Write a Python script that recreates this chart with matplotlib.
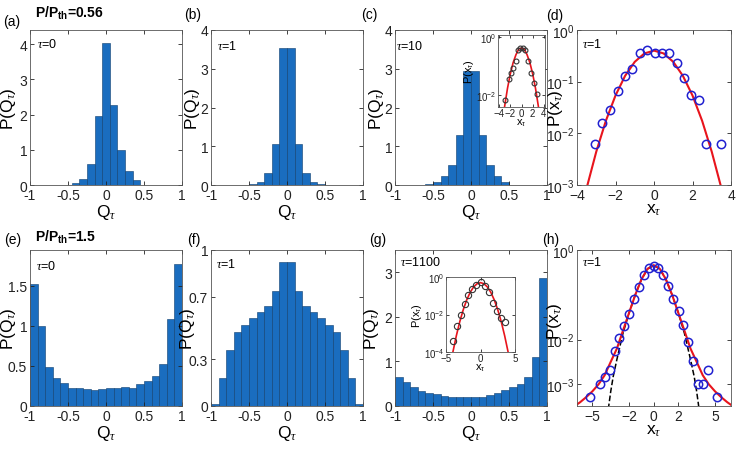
import matplotlib.pyplot as plt
import numpy as np

plt.rcParams['font.family'] = ['Liberation Sans', 'DejaVu Sans']
plt.rcParams['mathtext.fontset'] = 'custom'
plt.rcParams['mathtext.rm'] = 'Liberation Sans'
plt.rcParams['mathtext.it'] = 'Liberation Serif:italic'
plt.rcParams['mathtext.bf'] = 'Liberation Sans:bold'

# ---- histogram data (left bin edges, bin width 0.1) ----
edges_a = [-0.55, -0.45, -0.35, -0.25, -0.15, -0.05, 0.05, 0.15, 0.25, 0.35]
p_a = [0.01, 0.05, 0.17, 0.6, 1.95, 4.03, 2.28, 0.98, 0.4, 0.15]

edges_b = [-0.5, -0.4, -0.3, -0.2, -0.1, 0.0, 0.1, 0.2, 0.3, 0.4]
p_b = [0.02, 0.07, 0.32, 1.05, 3.53, 3.53, 1.05, 0.32, 0.07, 0.02]

edges_c = [-0.6, -0.5, -0.4, -0.3, -0.2, -0.1, 0.0, 0.1, 0.2, 0.3, 0.4, 0.5]
p_c = [0.02, 0.07, 0.22, 0.52, 1.28, 2.95, 2.93, 1.28, 0.52, 0.22, 0.07, 0.01]

edges_full = [-1.0, -0.9, -0.8, -0.7, -0.6, -0.5, -0.4, -0.3, -0.2, -0.1,
              0.0, 0.1, 0.2, 0.3, 0.4, 0.5, 0.6, 0.7, 0.8, 0.9]
p_e = [1.52, 1.0, 0.485, 0.35, 0.29, 0.23, 0.22, 0.21, 0.2, 0.215,
       0.22, 0.22, 0.24, 0.23, 0.27, 0.31, 0.38, 0.53, 1.09, 1.78]
p_f = [0.01, 0.177, 0.36, 0.475, 0.52, 0.565, 0.605, 0.64, 0.74, 0.92,
       0.92, 0.74, 0.64, 0.605, 0.565, 0.52, 0.475, 0.36, 0.177, 0.01]
p_g = [0.64, 0.53, 0.42, 0.34, 0.30, 0.27, 0.23, 0.21, 0.20, 0.20,
       0.20, 0.21, 0.25, 0.30, 0.36, 0.42, 0.50, 0.66, 1.11, 2.88]

# ---- (d) points and fit ----
xd = [-3.07, -2.68, -2.28, -1.89, -1.53, -1.14, -0.75, -0.35, 0.04, 0.40,
      0.79, 1.18, 1.54, 1.93, 2.32, 2.72, 3.46]
pd_ = [0.0062, 0.0158, 0.028, 0.067, 0.127, 0.176, 0.36, 0.41, 0.36, 0.354,
       0.36, 0.226, 0.118, 0.054, 0.045, 0.0062, 0.0062]
xfit_d = [-3.6, -3.5, -3.0, -2.5, -2.0, -1.5, -1.0, -0.5, 0.0, 0.5, 1.0, 1.5, 2.0, 2.5, 3.0, 3.5, 3.6]
pfit_d = [0.0006, 0.00087, 0.0044, 0.0175, 0.054, 0.13, 0.242, 0.352, 0.399,
          0.352, 0.242, 0.13, 0.054, 0.0175, 0.0044, 0.00087, 0.0006]

# ---- inset (c) ----
xc_in = [-2.9, -2.3, -1.8, -1.46, -1.06, -0.67, -0.25, 0.2, 0.67, 1.17, 1.73, 2.2, 2.75]
pc_in = [0.007, 0.036, 0.06, 0.083, 0.15, 0.34, 0.4, 0.4, 0.34, 0.15, 0.06, 0.027, 0.011]
xcfit_in = [-3.4, -3.0, -2.5, -2.0, -1.5, -1.0, -0.5, 0.0, 0.5, 1.0, 1.5, 2.0, 2.5, 3.0, 3.4]
pcfit_in = [0.0012, 0.0044, 0.0175, 0.054, 0.13, 0.242, 0.38, 0.41, 0.38, 0.242,
            0.13, 0.054, 0.0175, 0.0044, 0.0012]

# ---- inset (g) ----
xg_in = [-4.0, -3.4, -2.85, -2.3, -1.8, -1.17, -0.58, 0.0, 0.63, 1.26, 1.84, 2.4, 3.0, 3.5]
pg_in = [0.0004, 0.0023, 0.01, 0.038, 0.11, 0.23, 0.38, 0.55, 0.33, 0.15, 0.043, 0.015, 0.0063, 0.004]
xgfit_in = [-4.2, -4.0, -3.5, -3.0, -2.5, -2.0, -1.5, -1.0, -0.5, 0.0,
            0.5, 1.0, 1.5, 2.0, 2.5, 3.0, 3.5, 4.0, 4.2]
pgfit_in = [0.00005, 0.0001, 0.00074, 0.0042, 0.018, 0.0595, 0.151, 0.294, 0.438, 0.5,
            0.438, 0.294, 0.151, 0.0595, 0.018, 0.0042, 0.00074, 0.0001, 0.00005]

# ---- (h) points, fit, gaussian ----
xh = [-5.2, -4.35, -4.0, -3.6, -3.18, -2.8, -2.39, -1.98, -1.58, -1.17, -0.79, -0.41, 0.0,
      0.35, 0.73, 1.17, 1.58, 2.04, 2.42, 2.80, 3.2, 3.6, 4.0, 4.4, 5.16]
ph = [5.2e-4, 1.03e-3, 1.5e-3, 2.1e-3, 5.7e-3, 0.011, 0.0205, 0.037, 0.08, 0.15, 0.27, 0.39, 0.44,
      0.40, 0.28, 0.16, 0.082, 0.044, 0.021, 0.0087, 0.0034, 1.03e-3, 1.03e-3, 2.1e-3, 5.2e-4]
xfit_h = [-6.3, -6.0, -5.5, -5.0, -4.5, -4.0, -3.5, -3.0, -2.5, -2.0, -1.5, -1.0, -0.5, 0.0,
          0.5, 1.0, 1.5, 2.0, 2.5, 3.0, 3.5, 4.0, 4.5, 5.0, 5.5, 6.0, 6.3]
pfit_h = [3.5e-4, 4e-4, 5.2e-4, 7e-4, 1e-3, 1.6e-3, 3.2e-3, 6.3e-3, 0.016, 0.04, 0.1, 0.22, 0.38, 0.46,
          0.38, 0.22, 0.1, 0.04, 0.016, 6.3e-3, 3.2e-3, 1.6e-3, 1e-3, 7e-4, 5.2e-4, 4e-4, 3.5e-4]
xgau_h = [-3.7, -3.5, -3.3, -3.0, -2.5, -2.0, -1.5, -1.0, -0.5, 0.0,
          0.5, 1.0, 1.5, 2.0, 2.5, 3.0, 3.3, 3.5, 3.7]
pgau_h = [2.8e-4, 7e-4, 1.5e-3, 3.6e-3, 0.014, 0.04, 0.1, 0.22, 0.38, 0.45,
          0.38, 0.22, 0.1, 0.04, 0.014, 3.6e-3, 1.5e-3, 7e-4, 2.8e-4]

BAR = '#1a6dbf'
EDGE = '#0d3d6e'
W, H = 738, 456

fig = plt.figure(figsize=(7.38, 4.56), dpi=100)


def px_axes(x0, y0, x1, y1):
    return fig.add_axes([x0 / W, 1 - y1 / H, (x1 - x0) / W, (y1 - y0) / H])


def style(ax, fs=10):
    ax.tick_params(direction='in', top=True, right=True, length=3, width=0.6,
                   labelsize=fs, pad=2, colors='#222222')
    ax.tick_params(which='minor', length=0)
    for s in ax.spines.values():
        s.set_linewidth(0.6)
        s.set_color('#555555')


def hist(ax, edges, vals, ylim, yticks):
    ax.bar(edges, vals, width=0.1, align='edge', color=BAR, edgecolor=EDGE, linewidth=0.4)
    ax.set_xlim(-1, 1)
    ax.set_ylim(*ylim)
    ax.set_xticks([-1, -0.5, 0, 0.5, 1])
    ax.set_xticklabels(['-1', '-0.5', '0', '0.5', '1'])
    ax.set_yticks(yticks)
    ax.set_yticklabels([('%g' % t) for t in yticks])
    ax.set_xlabel(r'Q$_\tau$', fontsize=12.5, labelpad=0)
    ax.set_ylabel(r'P(Q$_\tau$)', fontsize=12.5)
    style(ax)


cols = [(30, 182), (211, 363), (395, 547), (577, 731)]
row1 = (31, 186)
row2 = (251, 407)

ax_a = px_axes(cols[0][0], row1[0], cols[0][1], row1[1])
hist(ax_a, edges_a, p_a, (0, 4.4), [0, 1, 2, 3, 4])
ax_a.yaxis.set_label_coords(-0.08, 0.5)

ax_b = px_axes(cols[1][0], row1[0], cols[1][1], row1[1])
hist(ax_b, edges_b, p_b, (0, 4), [0, 1, 2, 3, 4])
ax_b.yaxis.set_label_coords(-0.06, 0.5)

ax_c = px_axes(cols[2][0], row1[0], cols[2][1], row1[1])
hist(ax_c, edges_c, p_c, (0, 4), [0, 1, 2, 3, 4])
ax_c.yaxis.set_label_coords(-0.06, 0.5)

ax_d = px_axes(cols[3][0], row1[0], cols[3][1], row1[1])
ax_d.plot(xfit_d, pfit_d, color='#e8141c', lw=1.5)
ax_d.plot(xd, pd_, 'o', mfc='none', mec='#2020d0', ms=6, mew=1.1)
ax_d.set_yscale('log')
ax_d.set_xlim(-4, 4)
ax_d.set_ylim(1e-3, 1)
ax_d.set_xticks([-4, -2, 0, 2, 4])
ax_d.set_yticks([1e-3, 1e-2, 1e-1, 1])
ax_d.set_xlabel(r'x$_\tau$', fontsize=12.5, labelpad=0)
ax_d.set_ylabel(r'P(x$_\tau$)', fontsize=12.5)
ax_d.yaxis.set_label_coords(-0.075, 0.5)
style(ax_d)

ax_e = px_axes(cols[0][0], row2[0], cols[0][1], row2[1])
hist(ax_e, edges_full, p_e, (0, 1.95), [0, 0.5, 1, 1.5])
ax_e.yaxis.set_label_coords(-0.08, 0.5)

ax_f = px_axes(cols[1][0], row2[0], cols[1][1], row2[1])
hist(ax_f, edges_full, p_f, (0, 1), [0, 0.3, 0.7, 1])
ax_f.yaxis.set_label_coords(-0.09, 0.5)

ax_g = px_axes(cols[2][0], row2[0], cols[2][1], row2[1])
hist(ax_g, edges_full, p_g, (0, 3.5), [0, 1, 2, 3])
ax_g.yaxis.set_label_coords(-0.09, 0.5)

ax_h = px_axes(cols[3][0], row2[0], cols[3][1], row2[1])
ax_h.plot(xgau_h, pgau_h, 'k--', lw=1.1)
ax_h.plot(xfit_h, pfit_h, color='#e8141c', lw=1.5)
ax_h.plot(xh, ph, 'o', mfc='none', mec='#2020d0', ms=6, mew=1.1)
ax_h.set_yscale('log')
ax_h.set_xlim(-6.25, 6.3)
ax_h.set_ylim(3.3e-4, 1)
ax_h.set_xticks([-5, -2, 0, 2, 5])
ax_h.set_yticks([1e-3, 1e-2, 1])
ax_h.set_xlabel(r'x$_\tau$', fontsize=12.5, labelpad=0)
ax_h.set_ylabel(r'P(x$_\tau$)', fontsize=12.5)
ax_h.yaxis.set_label_coords(-0.085, 0.55)
style(ax_h)

# inset (c)
ax_ci = px_axes(498, 36, 545, 108)
ax_ci.plot(xcfit_in, pcfit_in, color='#e8141c', lw=1.2)
ax_ci.plot(xc_in, pc_in, 'o', mfc='none', mec='#333333', ms=3.5, mew=0.8)
ax_ci.set_yscale('log')
ax_ci.set_xlim(-4.2, 4.2)
ax_ci.set_ylim(4e-3, 1.15)
ax_ci.set_xticks([-4, -2, 0, 2, 4])
ax_ci.set_yticks([1e-2, 1])
ax_ci.set_xlabel(r'x$_\tau$', fontsize=8, labelpad=-1)
ax_ci.set_ylabel(r'P(x$_\tau$)', fontsize=8, labelpad=0)
style(ax_ci, fs=7)
ax_ci.tick_params(pad=1, length=2)

# inset (g)
ax_gi = px_axes(446, 278, 515, 353)
ax_gi.plot(xgfit_in, pgfit_in, color='#e8141c', lw=1.2)
ax_gi.plot(xg_in, pg_in, 'o', mfc='none', mec='#333333', ms=4.5, mew=0.8)
ax_gi.set_yscale('log')
ax_gi.set_xlim(-5, 5)
ax_gi.set_ylim(1e-4, 1)
ax_gi.set_xticks([-5, 0, 5])
ax_gi.set_yticks([1e-4, 1e-2, 1])
ax_gi.set_xlabel(r'x$_\tau$', fontsize=8, labelpad=-1)
ax_gi.set_ylabel(r'P(x$_\tau$)', fontsize=8, labelpad=0)
style(ax_gi, fs=7)
ax_gi.tick_params(pad=1, length=2)


def ftext(x, y, s, **kw):
    fig.text(x / W, 1 - y / H, s, va='center', ha='left', **kw)


ftext(3, 22, '(a)', fontsize=10)
ftext(35, 13, r'P/P$_{\mathbf{th}}$=0.56', fontsize=10, fontweight='bold')
ftext(184, 15, '(b)', fontsize=10)
ftext(361, 15, '(c)', fontsize=10)
ftext(546, 16, '(d)', fontsize=10)
ftext(4, 240, '(e)', fontsize=10)
ftext(35, 237, r'P/P$_{\mathbf{th}}$=1.5', fontsize=10, fontweight='bold')
ftext(187, 240, '(f)', fontsize=10)
ftext(369, 240, '(g)', fontsize=10)
ftext(542, 240, '(h)', fontsize=10)

taus = [(37, 45, '0'), (217, 47, '1'), (396, 47, '10'), (582, 45, '1'),
        (36, 267, '0'), (216, 265, '1'), (400, 263, '1100'), (582, 263, '1')]
for x, y, t in taus:
    ftext(x, y, r'$\tau$=' + t, fontsize=9)

plt.savefig('out.png', dpi=100)
